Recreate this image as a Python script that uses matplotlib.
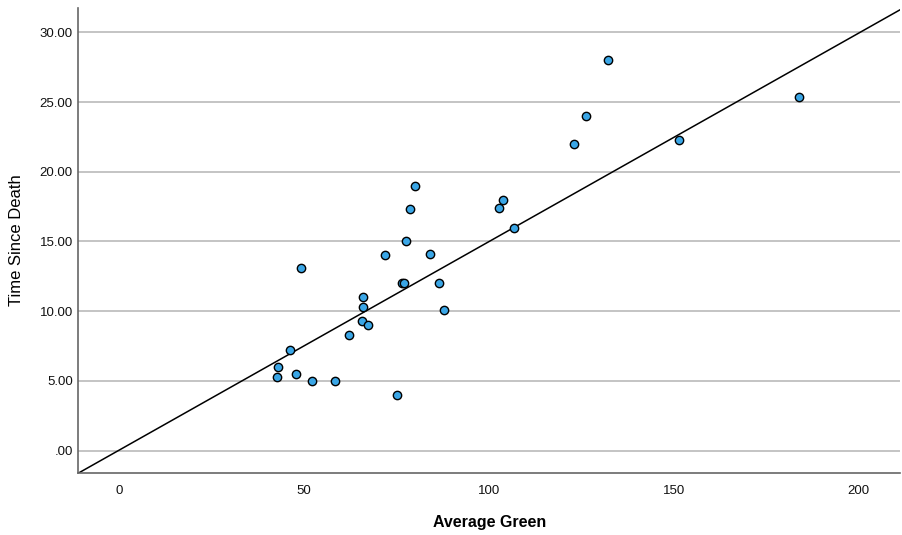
import matplotlib.pyplot as plt
import numpy as np

# Average Green vs Time Since Death
avg_green = [80.0, 78.6, 77.6, 71.9, 84.1, 49.0, 76.4, 77.1, 86.6, 65.8,
             65.8, 87.7, 65.6, 67.2, 62.1, 46.2, 43.0, 42.7, 47.7, 52.2,
             58.2, 75.2, 102.8, 103.7, 106.9, 132.2, 126.2, 123.1, 151.3, 183.9]
time_since_death = [19.0, 17.3, 15.0, 14.0, 14.1, 13.1, 12.0, 12.0, 12.0, 11.0,
                    10.3, 10.1, 9.3, 9.0, 8.3, 7.2, 6.0, 5.3, 5.5, 5.0,
                    5.0, 4.0, 17.4, 18.0, 16.0, 28.0, 24.0, 22.0, 22.3, 25.4]

# reference line
line_slope = 0.1495
line_intercept = 0.04

x_ticks = [0, 50, 100, 150, 200]
y_ticks = [0, 5, 10, 15, 20, 25, 30]
y_tick_labels = ['.00', '5.00', '10.00', '15.00', '20.00', '25.00', '30.00']

plt.rcParams['font.family'] = ['Liberation Sans', 'DejaVu Sans']

fig = plt.figure(figsize=(9.02, 5.35), dpi=100)
ax = fig.add_axes([0.087, 0.116, 0.911, 0.869])

xlim = (-11.1, 211.3)
ylim = (-1.61, 31.75)

for yt in y_ticks:
    ax.axhline(yt, color='#c4c4c4', linewidth=1.4, zorder=1)

xs = np.array(xlim)
ax.plot(xs, line_intercept + line_slope * xs, color='black', linewidth=1.1, zorder=2)

ax.scatter(avg_green, time_since_death, s=36, c='#3aa6e6', edgecolors='black',
           linewidths=1.0, zorder=3)

ax.set_xlim(*xlim)
ax.set_ylim(*ylim)
ax.set_xticks(x_ticks)
ax.set_xticklabels([str(t) for t in x_ticks])
ax.set_yticks(y_ticks)
ax.set_yticklabels(y_tick_labels)
ax.tick_params(length=0, labelsize=9.5, colors='#111111')
ax.tick_params(axis='x', pad=9)
ax.tick_params(axis='y', pad=4)

for side in ['top', 'right']:
    ax.spines[side].set_visible(False)
for side in ['left', 'bottom']:
    ax.spines[side].set_color('#666666')
    ax.spines[side].set_linewidth(1.2)

ax.set_xlabel('Average Green', fontsize=11.5, fontweight='bold', labelpad=13)
ax.set_ylabel('Time Since Death', fontsize=12, labelpad=11)

fig.savefig('out.png', dpi=100)
